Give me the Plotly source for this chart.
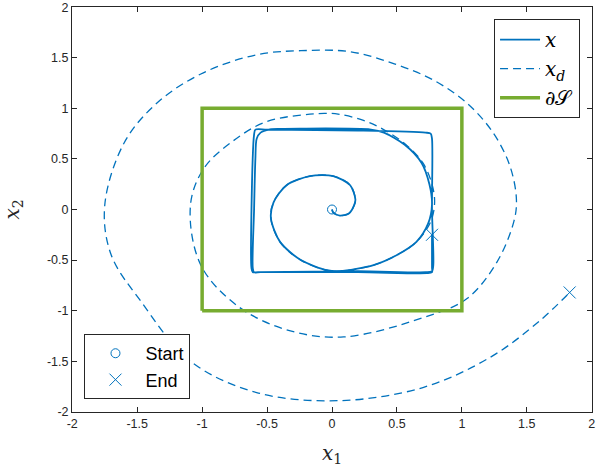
import plotly.graph_objects as go

BLUE = '#0072BD'
GREEN = '#77AC30'
AXIS = '#262626'

# desired trajectory x_d
xd_1 = [0, 0.01, 0.06, 0.13, 0.17, 0.18, 0.14, 0.01, -0.17, -0.35, -0.45, -0.47, -0.40, -0.24, -0.04,
        0.06, 0.32, 0.50, 0.65, 0.76, 0.79, 0.77, 0.70, 0.57, 0.37, 0.22, 0.06, -0.06, -0.50, -0.78,
        -0.99, -1.09, -1.01, -0.71, -0.32, 0.09, 0.70, 1.04, 1.27, 1.40, 1.42, 1.37, 1.24, 1.04, 0.78,
        0.48, 0.14, -0.24, -0.58, -1.01, -1.35, -1.60, -1.75, -1.70, -1.47, -1.09, -0.58, 0.05, 0.70,
        1.22, 1.60, 1.83]
xd_2 = [0, -0.03, -0.06, -0.04, 0.04, 0.10, 0.24, 0.33, 0.33, 0.24, 0.07, -0.09, -0.32, -0.50, -0.60,
        -0.61, -0.55, -0.45, -0.32, -0.12, 0.07, 0.25, 0.46, 0.64, 0.81, 0.89, 0.94, 0.95, 0.87, 0.66,
        0.40, 0.04, -0.55, -0.97, -1.20, -1.26, -1.07, -0.88, -0.52, -0.12, 0.10, 0.43, 0.76, 1.05, 1.28,
        1.44, 1.56, 1.57, 1.53, 1.34, 1.05, 0.66, 0.04, -0.45, -0.91, -1.50, -1.81, -1.89, -1.76,
        -1.46, -1.10, -0.82]

# actual trajectory x
x_1 = [0, 0.01, 0.06, 0.13, 0.17, 0.18, 0.14, 0.01, -0.17, -0.35, -0.45, -0.47, -0.40, -0.24, -0.04,
       0.06, 0.32, 0.50, 0.65, 0.74, 0.77, 0.75, 0.69, 0.56, 0.40, 0.30,
       -0.20, -0.48, -0.55, -0.58, -0.59, -0.60, -0.61, -0.60, -0.55, 0.20, 0.72, 0.77, 0.78,
       0.77, 0.77, 0.76, 0.72, 0.20, -0.50, -0.59, -0.60, -0.62, -0.62, -0.61, -0.57, 0.20, 0.73,
       0.77, 0.77, 0.77]
x_2 = [0, -0.03, -0.06, -0.04, 0.04, 0.10, 0.24, 0.33, 0.33, 0.24, 0.07, -0.09, -0.32, -0.50, -0.60,
       -0.61, -0.55, -0.45, -0.32, -0.14, 0.05, 0.25, 0.46, 0.64, 0.76, 0.79,
       0.80, 0.79, 0.76, 0.70, 0.50, 0.00, -0.58, -0.62, -0.62, -0.61, -0.62, -0.61, -0.55,
       0.00, 0.70, 0.75, 0.76, 0.78, 0.79, 0.79, 0.74, 0.00, -0.58, -0.62, -0.62, -0.62, -0.63,
       -0.62, -0.57, -0.25]

# safe set boundary
S_1 = [-1, 1, 1, -1, -1]
S_2 = [-1, -1, 1, 1, -1]

start_1, start_2 = [0], [0]
end_1, end_2 = [0.77, 1.83], [-0.25, -0.82]

ticks = [-2, -1.5, -1, -0.5, 0, 0.5, 1, 1.5, 2]
tick_text = ['-2', '-1.5', '-1', '-0.5', '0', '0.5', '1', '1.5', '2']

fig = go.Figure()

fig.add_trace(go.Scatter(x=x_1, y=x_2, mode='lines', name='<i>x</i>',
                         line=dict(color=BLUE, width=1.8, shape='spline', smoothing=0.8),
                         legend='legend'))
fig.add_trace(go.Scatter(x=xd_1, y=xd_2, mode='lines', name='<i>x</i><sub><i>d</i></sub>',
                         line=dict(color=BLUE, width=1.3, dash='8px,5px', shape='spline', smoothing=1),
                         legend='legend'))
fig.add_trace(go.Scatter(x=S_1, y=S_2, mode='lines', name='∂𝒮',
                         line=dict(color=GREEN, width=3.5), legend='legend'))
fig.add_trace(go.Scatter(x=start_1, y=start_2, mode='markers', name='Start',
                         marker=dict(symbol='circle-open', size=9, color=BLUE, line=dict(width=1)),
                         legend='legend2'))
fig.add_trace(go.Scatter(x=end_1, y=end_2, mode='markers', name='End',
                         marker=dict(symbol='x-thin-open', size=12, color=BLUE, line=dict(width=1, color=BLUE)),
                         legend='legend2'))

axis_style = dict(range=[-2.002, 2.002], tickvals=ticks, ticktext=tick_text, ticks='inside', ticklen=5,
                  tickcolor=AXIS, showline=True, linecolor=AXIS, linewidth=1, mirror='allticks',
                  showgrid=False, zeroline=False, automargin=False, ticklabeloverflow='allow',
                  tickfont=dict(family='Liberation Sans, Arial', size=12.5, color=AXIS))

fig.update_xaxes(**axis_style,
                 title=dict(text='<i>x</i><sub>1</sub>', standoff=15,
                            font=dict(family='DejaVu Serif', size=20, color=AXIS)))
fig.update_yaxes(**axis_style,
                 title=dict(text='<i>x</i><sub>2</sub>', standoff=22,
                            font=dict(family='DejaVu Serif', size=20, color=AXIS)))

fig.update_layout(
    width=608, height=472,
    margin=dict(l=72, r=16, t=7, b=60, autoexpand=False),
    plot_bgcolor='white', paper_bgcolor='white',
    legend=dict(x=0.977, y=0.97, xanchor='right', yanchor='top', bgcolor='white',
                bordercolor=AXIS, borderwidth=1, tracegroupgap=0, itemwidth=40,
                font=dict(family='DejaVu Serif', size=20, color='black')),
    legend2=dict(x=0.024, y=0.032, xanchor='left', yanchor='bottom', bgcolor='white',
                 bordercolor=AXIS, borderwidth=1, itemwidth=50,
                 font=dict(family='Liberation Sans, Arial', size=18, color='black')),
)

fig.write_html("out.html", config={'displayModeBar': False},
               post_script="document.body.style.margin = '0px';")
